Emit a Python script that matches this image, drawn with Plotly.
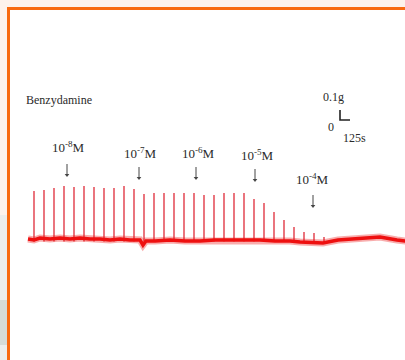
import plotly.graph_objects as go

W, H = 405, 360

# ---- data (time in s, force in g) ----
baseline_t = [0, 75, 150, 275, 400, 525, 650, 775, 900, 1025, 1150, 1275, 1400, 1437.5, 1475,
              1587.5, 1775, 1962.5, 2150, 2337.5, 2525, 2712.5, 2900, 3087.5, 3275, 3400,
              3562.5, 3687.5, 3875, 4025, 4187.5, 4400, 4612.5, 4800]
baseline_g = [0.01, 0.00, 0.02, 0.01, 0.02, 0.01, 0.02, 0.01, 0.01, 0.00, 0.01, 0.00, 0.00, -0.05, -0.01,
              -0.01, 0.00, -0.01, -0.01, 0.00, 0.00, 0.00, 0.00, -0.01, -0.01, -0.02,
              -0.03, -0.03, 0.00, 0.01, 0.02, 0.03, 0.00, -0.02]

spike_t = [75, 200, 325, 450, 575, 700, 825, 950, 1075, 1200, 1325, 1450, 1575, 1700, 1825,
           1950, 2075, 2200, 2325, 2450, 2575, 2700, 2825, 2950, 3075, 3200, 3325, 3450, 3575, 3700]
spike_peak_g = [0.49, 0.50, 0.52, 0.54, 0.53, 0.54, 0.53, 0.52, 0.52, 0.54, 0.51, 0.46, 0.47, 0.47, 0.47,
                0.47, 0.47, 0.45, 0.45, 0.47, 0.47, 0.47, 0.41, 0.37, 0.28, 0.20, 0.13, 0.08, 0.07, 0.03]

conc_labels = ["10<sup>-8</sup>M", "10<sup>-7</sup>M", "10<sup>-6</sup>M", "10<sup>-5</sup>M", "10<sup>-4</sup>M"]
conc_label_t = [500, 1400, 2125, 2862.5, 3550]
conc_label_g = [0.93, 0.87, 0.87, 0.85, 0.61]
arrow_t = [487.5, 1387.5, 2100, 2837.5, 3562.5]
arrow_tip_g = [0.63, 0.60, 0.60, 0.58, 0.32]
arrow_len_g = 0.13

drug_name = "Benzydamine"
scale_force_g = 0.1
scale_time_s = 125
scale_origin = (3900, 1.20)

# axis ranges chosen so 1 px = 12.5 s horizontally and 0.01 g vertically
x_range = [-350, 4712.5]
y_range = [-1.2, 2.4]

SERIF = "Liberation Serif, Times New Roman, serif"
TXT = "#2a2a2a"

fig = go.Figure()

# spikes
sx, sy = [], []
for t, p in zip(spike_t, spike_peak_g):
    sx += [t, t, None]
    sy += [-0.015, p, None]
fig.add_trace(go.Scatter(x=sx, y=sy, mode="lines",
                         line=dict(color="rgba(222,35,50,0.9)", width=1.4),
                         hoverinfo="skip", showlegend=False))

# baseline (fuzzy underlay + core)
fig.add_trace(go.Scatter(x=baseline_t, y=baseline_g, mode="lines",
                         line=dict(color="rgba(235,20,20,0.35)", width=7),
                         hoverinfo="skip", showlegend=False))
fig.add_trace(go.Scatter(x=baseline_t, y=baseline_g, mode="lines",
                         line=dict(color="#ee1010", width=3.5),
                         hoverinfo="skip", showlegend=False))

# arrows (shaft + head)
axs, ays = [], []
for t, g in zip(arrow_t, arrow_tip_g):
    axs += [t, t, None]
    ays += [g + arrow_len_g, g + 0.02, None]
fig.add_trace(go.Scatter(x=axs, y=ays, mode="lines", line=dict(color="#444", width=1),
                         hoverinfo="skip", showlegend=False))
fig.add_trace(go.Scatter(x=arrow_t, y=[g + 0.02 for g in arrow_tip_g], mode="markers",
                         marker=dict(symbol="triangle-down", size=4, color="#444"),
                         hoverinfo="skip", showlegend=False))

# scale bar
ox, oy = scale_origin
fig.add_trace(go.Scatter(x=[ox, ox, ox + scale_time_s], y=[oy + scale_force_g, oy, oy],
                         mode="lines", line=dict(color="#222", width=1.6),
                         hoverinfo="skip", showlegend=False))

ann = []
ann.append(dict(x=-50, y=1.40, xref="x", yref="y", text=drug_name, showarrow=False,
                xanchor="left", yanchor="middle", font=dict(family=SERIF, size=12, color=TXT)))
for lab, t, g in zip(conc_labels, conc_label_t, conc_label_g):
    ann.append(dict(x=t, y=g, xref="x", yref="y", text=lab, showarrow=False,
                    xanchor="center", yanchor="middle", font=dict(family=SERIF, size=13, color=TXT)))
ann.append(dict(x=3812.5, y=1.43, xref="x", yref="y", text="0.1g", showarrow=False,
                xanchor="center", yanchor="middle", font=dict(family=SERIF, size=12, color=TXT)))
ann.append(dict(x=3787.5, y=1.13, xref="x", yref="y", text="0", showarrow=False,
                xanchor="center", yanchor="middle", font=dict(family=SERIF, size=12, color=TXT)))
ann.append(dict(x=4075, y=1.02, xref="x", yref="y", text="125s", showarrow=False,
                xanchor="center", yanchor="middle", font=dict(family=SERIF, size=12, color=TXT)))

def px(x):
    return x / W

def py(y):
    return 1 - y / H

shapes = [
    # gray-ish strip on the lower left outside the frame
    dict(type="rect", xref="paper", yref="paper", x0=0, x1=px(8), y0=py(360), y1=py(215),
         fillcolor="#eceeec", line=dict(width=0), layer="below"),
    dict(type="rect", xref="paper", yref="paper", x0=0, x1=px(8), y0=py(345), y1=py(300),
         fillcolor="#d6dcd8", line=dict(width=0), layer="below"),
    # white panel with orange frame
    dict(type="rect", xref="paper", yref="paper", x0=px(8.5), x1=px(430), y0=py(400), y1=py(8.5),
         fillcolor="white", line=dict(color="#f86a10", width=3), layer="below"),
]

fig.update_layout(
    width=W, height=H,
    margin=dict(l=0, r=0, t=0, b=0),
    paper_bgcolor="#fdf3ec", plot_bgcolor="rgba(0,0,0,0)",
    xaxis=dict(range=x_range, visible=False, fixedrange=True),
    yaxis=dict(range=y_range, visible=False, fixedrange=True),
    annotations=ann, shapes=shapes, showlegend=False,
)

fig.write_html("out.html", config={"displayModeBar": False},
               post_script="document.body.style.margin='0';document.body.style.overflow='hidden';")
